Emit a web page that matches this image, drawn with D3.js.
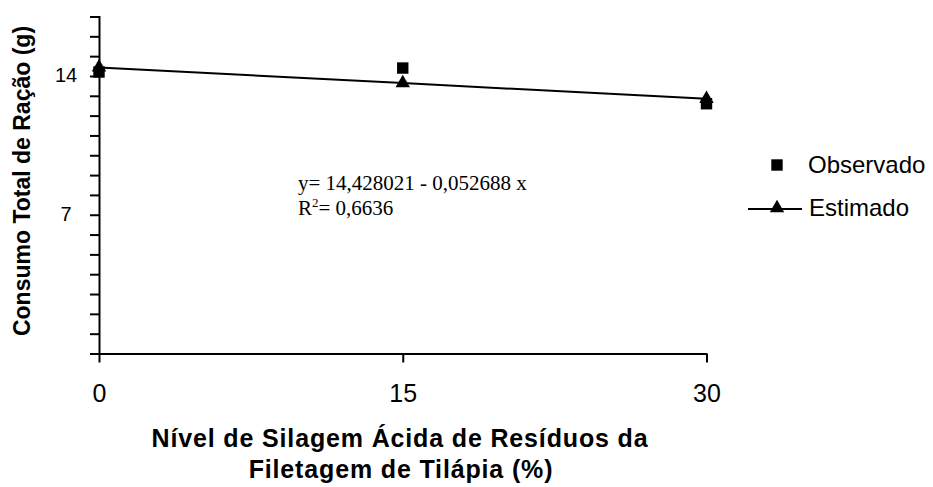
<!DOCTYPE html>
<html>
<head>
<meta charset="utf-8">
<script src="https://cdn.jsdelivr.net/npm/d3@7"></script>
<style>
  body { margin: 0; background: #fff; }
  text { font-family: "Liberation Sans", Arial, sans-serif; fill: #000; }
</style>
</head>
<body>
<svg id="chart" width="933" height="487"></svg>
<script>
// niveis de silagem (%)
const niveis = [0, 15, 30];
const observado = [14.2, 14.4, 12.6];
const estimado = [14.43, 13.64, 12.85];
const yTickLabels = [7, 14];
const equacao = ["y= 14,428021 - 0,052688 x", "0,6636"];

const svg = d3.select("#chart");

const x = d3.scaleLinear().domain([0, 30]).range([99, 706.5]);
const y = d3.scaleLinear().domain([0, 17]).range([353.5, 16.5]);

// y axis, minor ticks every 1
const yAxis = d3.axisLeft(y)
  .tickValues(d3.range(0, 18))
  .tickSize(9)
  .tickFormat(d => yTickLabels.includes(d) ? d : "");

const gy = svg.append("g")
  .attr("transform", `translate(${x(0)},0)`)
  .call(yAxis);
gy.select(".domain").attr("stroke", "#000").attr("stroke-width", 2);
gy.selectAll(".tick line").attr("stroke", "#000").attr("stroke-width", 2);
gy.selectAll(".tick text")
  .attr("x", -33)
  .attr("text-anchor", "middle")
  .attr("dy", "0.3em")
  .style("font-size", "20px")
  .style("font-family", "'Liberation Sans', Arial, sans-serif");

const xAxis = d3.axisBottom(x)
  .tickValues(niveis)
  .tickSize(9)
  .tickSizeOuter(0);

const gx = svg.append("g")
  .attr("transform", `translate(0,${y(0)})`)
  .call(xAxis);
gx.select(".domain").attr("stroke", "#000").attr("stroke-width", 2);
gx.selectAll(".tick line").attr("stroke", "#000").attr("stroke-width", 2);
gx.selectAll(".tick text")
  .attr("y", 40)
  .attr("dy", "0.35em")
  .style("font-size", "25px")
  .style("font-family", "'Liberation Sans', Arial, sans-serif");

// regression line
const line = d3.line()
  .x((d, i) => x(niveis[i]))
  .y(d => y(d));

svg.append("path")
  .datum(estimado)
  .attr("d", line)
  .attr("fill", "none")
  .attr("stroke", "#000")
  .attr("stroke-width", 2);

const square = d3.symbol().type(d3.symbolSquare).size(130);
const triangle = d3.symbol().type(d3.symbolTriangle).size(90);

svg.append("g").selectAll("path")
  .data(observado)
  .join("path")
  .attr("d", square)
  .attr("transform", (d, i) => `translate(${x(niveis[i])},${y(d)})`)
  .attr("fill", "#000");

svg.append("g").selectAll("path")
  .data(estimado)
  .join("path")
  .attr("d", triangle)
  .attr("transform", (d, i) => `translate(${x(niveis[i])},${y(d)})`)
  .attr("fill", "#000");

// equation
const eq = svg.append("g")
  .style("font-size", "21px");
eq.append("text")
  .attr("x", 298).attr("y", 190)
  .style("font-family", "'Liberation Serif', 'Times New Roman', serif")
  .text(equacao[0]);
const r2 = eq.append("text")
  .attr("x", 298).attr("y", 215)
  .style("font-family", "'Liberation Serif', 'Times New Roman', serif");
r2.append("tspan").text("R");
r2.append("tspan").attr("dy", -8).style("font-size", "13px").text("2");
r2.append("tspan").attr("dy", 8).text("= " + equacao[1]);

// legend
const leg = svg.append("g");
leg.append("path")
  .attr("d", square)
  .attr("transform", "translate(777,165)");
leg.append("text")
  .attr("x", 808).attr("y", 173)
  .style("font-size", "24px")
  .text("Observado");
leg.append("line")
  .attr("x1", 748).attr("x2", 802)
  .attr("y1", 209).attr("y2", 209)
  .attr("stroke", "#000").attr("stroke-width", 2);
leg.append("path")
  .attr("d", triangle)
  .attr("transform", "translate(777,208)");
leg.append("text")
  .attr("x", 809).attr("y", 216)
  .style("font-size", "24px")
  .text("Estimado");

// axis titles
svg.append("text")
  .attr("transform", "translate(30,181) rotate(-90)")
  .attr("text-anchor", "middle")
  .style("font-size", "23px")
  .style("font-weight", "bold")
  .text("Consumo Total de Ração (g)");

svg.append("text")
  .attr("x", 400).attr("y", 447)
  .attr("text-anchor", "middle")
  .style("font-size", "25px")
  .style("font-weight", "bold")
  .style("letter-spacing", "0.85px")
  .text("Nível de Silagem Ácida de Resíduos da");

svg.append("text")
  .attr("x", 401).attr("y", 478)
  .attr("text-anchor", "middle")
  .style("font-size", "25px")
  .style("font-weight", "bold")
  .style("letter-spacing", "0.85px")
  .text("Filetagem de Tilápia (%)");
</script>
</body>
</html>
